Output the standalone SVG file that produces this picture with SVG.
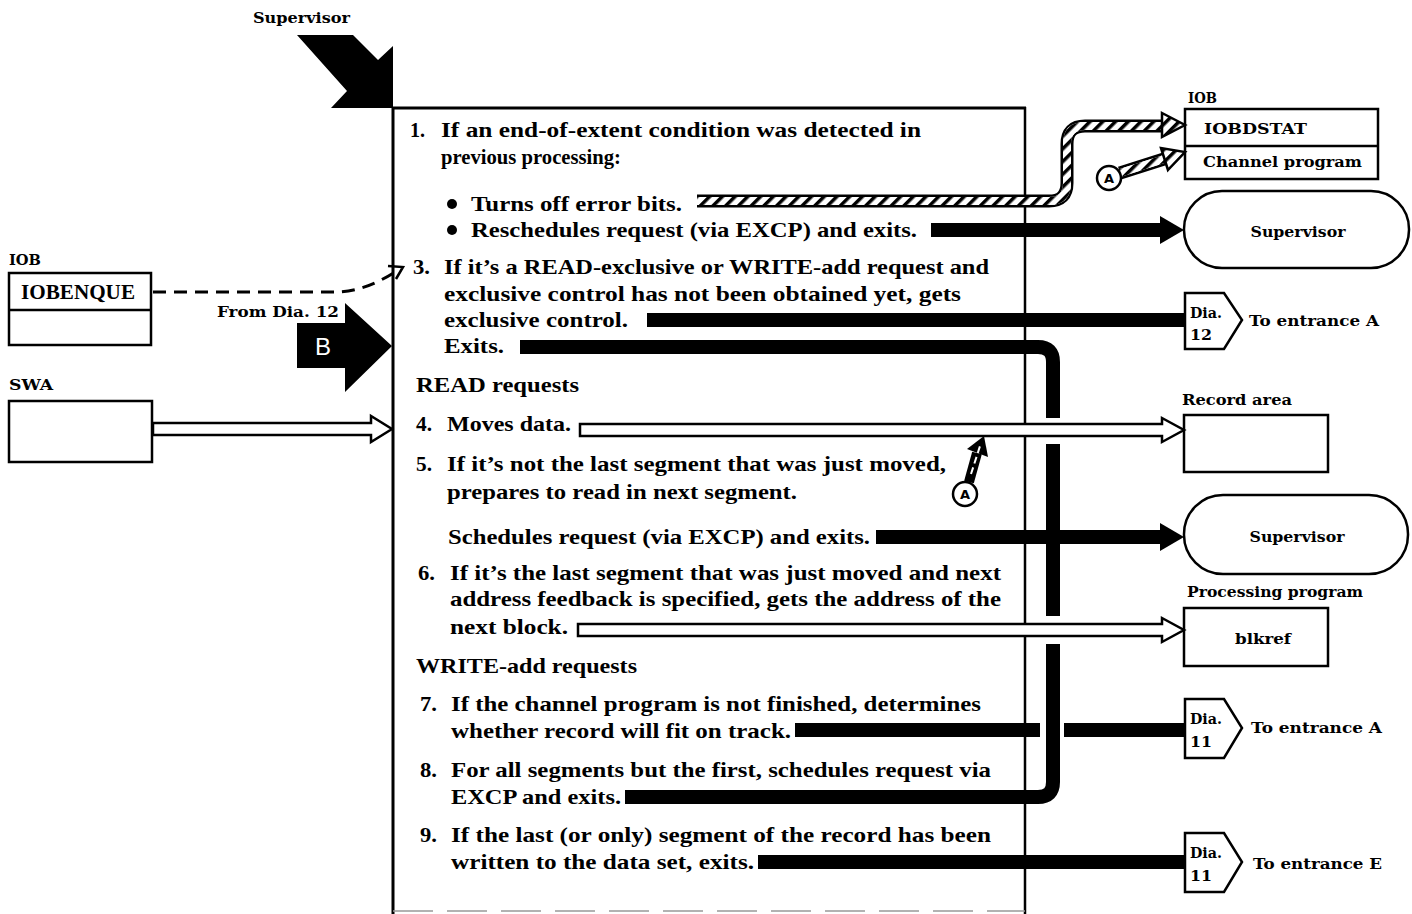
<svg xmlns="http://www.w3.org/2000/svg" width="1412" height="914" viewBox="0 0 1412 914">
<defs>
<style>
.t{font-family:"Liberation Serif","Times New Roman",serif;font-weight:bold;font-size:21px;fill:#000}
.l{font-family:"DejaVu Serif","Liberation Serif",serif;font-weight:bold;font-size:15px;fill:#000}
.box{fill:#fff;stroke:#000;stroke-width:2.5}
.bar{fill:none;stroke:#000;stroke-width:14}
.head{fill:#000}
.hollow{fill:#fff;stroke:#000;stroke-width:2.5;stroke-linejoin:miter}
.hout{fill:none;stroke:#000;stroke-width:13}
.hin{fill:none;stroke:#fff;stroke-width:8}
.hhat{fill:none;stroke:url(#hatch);stroke-width:8}
.hhead{fill:url(#hatch);stroke:#000;stroke-width:2.5}
.circ{fill:#fff;stroke:#000;stroke-width:2.5}
.ca{font-family:"DejaVu Sans","Liberation Sans",sans-serif;font-weight:bold;font-size:13px;fill:#000}
</style>
<pattern id="hatch" width="9" height="9" patternUnits="userSpaceOnUse" patternTransform="rotate(45)">
<rect width="9" height="9" fill="#fff"/>
<rect width="3.5" height="9" fill="#000"/>
</pattern>
</defs>
<rect width="1412" height="914" fill="#fff"/>

<g id="supervisor-top">
<text class="l" x="253" y="23" textLength="97" lengthAdjust="spacingAndGlyphs">Supervisor</text>
<polygon points="297,35 353,35 378,60 393,46 393,108 331,108 347,91" fill="#000"/>
</g>

<g id="main-box">
<line x1="393" y1="107" x2="393" y2="914" stroke="#000" stroke-width="3"/>
<line x1="392" y1="108" x2="1026" y2="108" stroke="#000" stroke-width="3"/>
<line x1="1025" y1="107" x2="1025" y2="914" stroke="#000" stroke-width="2.5"/>
<line x1="393" y1="911" x2="1025" y2="911" stroke="#999" stroke-width="1.5" stroke-dasharray="40 14"/>
<text class="t" x="410" y="137" textLength="15" lengthAdjust="spacingAndGlyphs">1.</text>
<text class="t" x="441" y="137" textLength="480" lengthAdjust="spacingAndGlyphs">If an end-of-extent condition was detected in</text>
<text class="t" x="441" y="164" textLength="180" lengthAdjust="spacingAndGlyphs">previous processing:</text>
<circle cx="452" cy="204" r="5" fill="#000"/>
<text class="t" x="471" y="211" textLength="211" lengthAdjust="spacingAndGlyphs">Turns off error bits.</text>
<circle cx="452" cy="230" r="5" fill="#000"/>
<text class="t" x="471" y="237" textLength="446" lengthAdjust="spacingAndGlyphs">Reschedules request (via EXCP) and exits.</text>
<text class="t" x="413" y="274" textLength="17" lengthAdjust="spacingAndGlyphs">3.</text>
<text class="t" x="444" y="274" textLength="545" lengthAdjust="spacingAndGlyphs">If it’s a READ-exclusive or WRITE-add request and</text>
<text class="t" x="444" y="301" textLength="517" lengthAdjust="spacingAndGlyphs">exclusive control has not been obtained yet, gets</text>
<text class="t" x="444" y="327" textLength="184" lengthAdjust="spacingAndGlyphs">exclusive control.</text>
<text class="t" x="444" y="353" textLength="60" lengthAdjust="spacingAndGlyphs">Exits.</text>
<text class="t" x="416" y="392" textLength="163" lengthAdjust="spacingAndGlyphs">READ requests</text>
<text class="t" x="416" y="431" textLength="16" lengthAdjust="spacingAndGlyphs">4.</text>
<text class="t" x="447" y="431" textLength="124" lengthAdjust="spacingAndGlyphs">Moves data.</text>
<text class="t" x="416" y="471" textLength="16" lengthAdjust="spacingAndGlyphs">5.</text>
<text class="t" x="447" y="471" textLength="499" lengthAdjust="spacingAndGlyphs">If it’s not the last segment that was just moved,</text>
<text class="t" x="447" y="499" textLength="350" lengthAdjust="spacingAndGlyphs">prepares to read in next segment.</text>
<text class="t" x="448" y="544" textLength="422" lengthAdjust="spacingAndGlyphs">Schedules request (via EXCP) and exits.</text>
<text class="t" x="418" y="580" textLength="17" lengthAdjust="spacingAndGlyphs">6.</text>
<text class="t" x="450" y="580" textLength="551" lengthAdjust="spacingAndGlyphs">If it’s the last segment that was just moved and next</text>
<text class="t" x="450" y="606" textLength="551" lengthAdjust="spacingAndGlyphs">address feedback is specified, gets the address of the</text>
<text class="t" x="450" y="634" textLength="118" lengthAdjust="spacingAndGlyphs">next block.</text>
<text class="t" x="416" y="673" textLength="221" lengthAdjust="spacingAndGlyphs">WRITE-add requests</text>
<text class="t" x="420" y="711" textLength="17" lengthAdjust="spacingAndGlyphs">7.</text>
<text class="t" x="451" y="711" textLength="530" lengthAdjust="spacingAndGlyphs">If the channel program is not finished, determines</text>
<text class="t" x="451" y="738" textLength="340" lengthAdjust="spacingAndGlyphs">whether record will fit on track.</text>
<text class="t" x="420" y="777" textLength="17" lengthAdjust="spacingAndGlyphs">8.</text>
<text class="t" x="451" y="777" textLength="540" lengthAdjust="spacingAndGlyphs">For all segments but the first, schedules request via</text>
<text class="t" x="451" y="804" textLength="170" lengthAdjust="spacingAndGlyphs">EXCP and exits.</text>
<text class="t" x="420" y="842" textLength="17" lengthAdjust="spacingAndGlyphs">9.</text>
<text class="t" x="451" y="842" textLength="540" lengthAdjust="spacingAndGlyphs">If the last (or only) segment of the record has been</text>
<text class="t" x="451" y="869" textLength="303" lengthAdjust="spacingAndGlyphs">written to the data set, exits.</text>
</g>

<g id="iob-left">
<text class="l" x="9" y="265" textLength="32" lengthAdjust="spacingAndGlyphs">IOB</text>
<rect class="box" x="9" y="273" width="142" height="72"/>
<line x1="9" y1="310" x2="151" y2="310" stroke="#000" stroke-width="2.5"/>
<text class="t" x="21" y="299" font-size="20" textLength="114" lengthAdjust="spacingAndGlyphs">IOBENQUE</text>
</g>

<g id="swa">
<text class="l" x="9" y="390" textLength="44" lengthAdjust="spacingAndGlyphs">SWA</text>
<rect class="box" x="9" y="401" width="143" height="61"/>
</g>

<g id="entry-b">
<text class="l" x="217" y="317" textLength="122" lengthAdjust="spacingAndGlyphs">From Dia. 12</text>
<polygon points="297,323 345,323 345,303 392,346 345,392 345,368 297,368" fill="#000"/>
<text x="323" y="355" text-anchor="middle" font-family="Liberation Sans, Arial, sans-serif" font-size="24" fill="#fff">B</text>
</g>

<g id="iob-right">
<text class="l" x="1188" y="103" textLength="29" lengthAdjust="spacingAndGlyphs">IOB</text>
<rect class="box" x="1185" y="109" width="193" height="70"/>
<line x1="1185" y1="146" x2="1378" y2="146" stroke="#000" stroke-width="2.5"/>
<text class="l" x="1204" y="134" font-size="16" textLength="103" lengthAdjust="spacingAndGlyphs">IOBDSTAT</text>
<text class="l" x="1203" y="167" font-size="16" textLength="159" lengthAdjust="spacingAndGlyphs">Channel program</text>
</g>

<g id="supervisor-1">
<rect class="box" x="1184" y="191" width="225" height="77" rx="38" ry="38"/>
<text class="l" x="1298" y="237" text-anchor="middle" textLength="95" lengthAdjust="spacingAndGlyphs">Supervisor</text>
</g>

<g id="dia-12">
<polygon class="box" points="1185,293 1224,293 1242,320 1224,349 1185,349"/>
<text class="l" x="1190" y="318" textLength="32" lengthAdjust="spacingAndGlyphs">Dia.</text>
<text class="l" x="1190" y="340" textLength="22" lengthAdjust="spacingAndGlyphs">12</text>
<text class="l" x="1249" y="326" textLength="130" lengthAdjust="spacingAndGlyphs">To entrance A</text>
</g>

<g id="record-area">
<text class="l" x="1182" y="405" textLength="110" lengthAdjust="spacingAndGlyphs">Record area</text>
<rect class="box" x="1184" y="415" width="144" height="57"/>
</g>

<g id="supervisor-2">
<rect class="box" x="1184" y="495" width="224" height="79" rx="39" ry="39"/>
<text class="l" x="1297" y="542" text-anchor="middle" textLength="95" lengthAdjust="spacingAndGlyphs">Supervisor</text>
</g>

<g id="blkref">
<text class="l" x="1187" y="597" textLength="176" lengthAdjust="spacingAndGlyphs">Processing program</text>
<rect class="box" x="1184" y="608" width="144" height="58"/>
<text class="l" x="1263" y="644" text-anchor="middle" textLength="56" lengthAdjust="spacingAndGlyphs">blkref</text>
</g>

<g id="dia-11-a">
<polygon class="box" points="1185,699 1224,699 1242,728 1224,758 1185,758"/>
<text class="l" x="1190" y="724" textLength="32" lengthAdjust="spacingAndGlyphs">Dia.</text>
<text class="l" x="1190" y="747" textLength="22" lengthAdjust="spacingAndGlyphs">11</text>
<text class="l" x="1251" y="733" textLength="131" lengthAdjust="spacingAndGlyphs">To entrance A</text>
</g>

<g id="dia-11-e">
<polygon class="box" points="1185,833 1224,833 1242,862 1224,892 1185,892"/>
<text class="l" x="1190" y="858" textLength="32" lengthAdjust="spacingAndGlyphs">Dia.</text>
<text class="l" x="1190" y="881" textLength="22" lengthAdjust="spacingAndGlyphs">11</text>
<text class="l" x="1253" y="869" textLength="129" lengthAdjust="spacingAndGlyphs">To entrance E</text>
</g>

<g id="connectors">
<!-- hatched: turns off error bits -> IOBDSTAT -->
<path class="hout" d="M697 201 H1049 Q1067 201 1067 183 V144 Q1067 126 1085 126 H1164"/>
<path class="hin" d="M697 201 H1049 Q1067 201 1067 183 V144 Q1067 126 1085 126 H1164"/>
<path class="hhat" d="M697 201 H1049 Q1067 201 1067 183 V144 Q1067 126 1085 126 H1164"/>
<polygon class="hhead" points="1162,113 1185,125 1162,137"/>
<!-- hatched: A -> channel program -->
<path class="hout" d="M1120 173 L1164 159"/>
<path class="hin" d="M1120 173 L1164 159"/>
<path class="hhat" d="M1120 173 L1164 159"/>
<polygon class="hhead" points="1168,170 1185,152 1161,148"/>
<g id="circle-a1">
<circle class="circ" cx="1109" cy="178" r="12"/>
<text class="ca" x="1109" y="183" text-anchor="middle">A</text>
</g>
<!-- reschedules -> supervisor -->
<path class="bar" d="M931 230 H1162"/>
<polygon class="head" points="1160,216 1184,230 1160,244"/>
<!-- exclusive control -> Dia 12 -->
<path class="bar" d="M647 320 H1185"/>
<!-- exits (3) and (8) merge -> supervisor -->
<path class="bar" d="M520 347 H1038 Q1053 347 1053 362 V782 Q1053 797 1038 797 H625"/>
<rect x="1043" y="418" width="21" height="26" fill="#fff"/>
<rect x="1043" y="616" width="21" height="28" fill="#fff"/>
<!-- schedules -> supervisor -->
<path class="bar" d="M876 537 H1162"/>
<polygon class="head" points="1160,523 1184,537 1160,551"/>
<!-- 7 -> Dia 11 A -->
<path class="bar" d="M795 730 H1040"/>
<path class="bar" d="M1064 730 H1185"/>
<!-- 9 -> Dia 11 E -->
<path class="bar" d="M758 862 H1185"/>
<!-- white arrows -->
<polygon class="hollow" points="580,424 1162,424 1162,418 1184,430 1162,442 1162,436 580,436"/>
<polygon class="hollow" points="578,624 1162,624 1162,618 1184,630 1162,642 1162,636 578,636"/>
<polygon class="hollow" points="153,423 371,423 371,416 392,429 371,442 371,435 153,435"/>
<!-- A -> moves data -->
<path d="M969 482 L977 453" fill="none" stroke="#000" stroke-width="10"/>
<polygon points="988,457 984,436 967,449" fill="#000"/>
<path d="M971 474 L981 443" fill="none" stroke="#fff" stroke-width="2" stroke-dasharray="7 4"/>
<g id="circle-a2">
<circle class="circ" cx="965" cy="494" r="12"/>
<text class="ca" x="965" y="499" text-anchor="middle">A</text>
</g>
<!-- dashed IOBENQUE -> 3 -->
<path d="M153 292 H335 Q365 292 398 270" fill="none" stroke="#000" stroke-width="3" stroke-dasharray="13 8"/>
<polyline points="388,266 403,267 396,279" fill="none" stroke="#000" stroke-width="2.5"/>
</g>
</svg>
